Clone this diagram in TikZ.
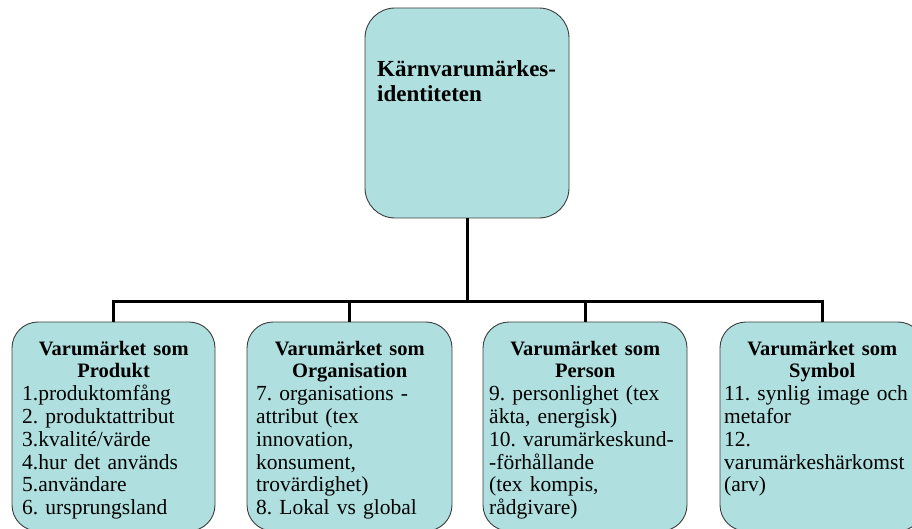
\documentclass[tikz,border=0pt]{standalone}
\usepackage{fontspec}
\setmainfont{Liberation Serif}
\frenchspacing
\definecolor{boxfill}{RGB}{175,224,223}
\definecolor{boxline}{RGB}{60,60,60}
\newcommand{\hd}[2]{\makebox[#1][c]{\fontsize{20.5}{22.8}\selectfont\bfseries #2}}
\tikzset{
  box/.style={draw=boxline, fill=boxfill, line width=0.9pt, inner sep=0pt},
  corebox/.style={box, rounded corners=30pt, minimum width=204pt, minimum height=210pt},
  subbox/.style={box, rounded corners=26pt, minimum width=204pt, minimum height=209pt},
  conn/.style={line width=3pt, black, line join=miter},
  txt/.style={anchor=base west, text width=210pt, inner sep=0pt, font=\fontsize{21.5}{22.8}\selectfont},
  coretxt/.style={anchor=base west, text width=190pt, inner sep=0pt, font=\fontsize{23}{25}\selectfont\bfseries}
}
\begin{document}
\begin{tikzpicture}[x=1pt,y=-1pt]
\fill[white] (0,0) rectangle (912,529);
\useasboundingbox (0,0) rectangle (912,529);

% boxes
\node[corebox] (core) at (467,113) {};
\node[subbox, minimum width=203pt] (b1) at (113.5,426.5) {};
\node[subbox, minimum width=205pt] (b2) at (349.5,426.5) {};
\node[subbox] (b3) at (585,426.5) {};
\node[subbox] (b4) at (822,426.5) {};

% connectors
\coordinate (bar) at (467,301);
\draw[conn] (core.south) -- (bar);
\draw[conn] (bar) -| (b1.north);
\draw[conn] (bar) -| (b2.north);
\draw[conn] (bar) -| (b3.north);
\draw[conn] (bar) -| (b4.north);

% texts
\node[coretxt] (coret) at (377,77) {\raggedright Kärnvarumärkes-\\identiteten};

\node[txt] (t1) at (22,355) {\raggedright\hd{183pt}{Varumärket som}\\\hd{183pt}{Produkt}\\
1.produktomfång\\2. produktattribut\\3.kvalité/värde\\4.hur det används\\5.användare\\6. ursprungsland};

\node[txt] (t2) at (256,355) {\raggedright\hd{187pt}{Varumärket som}\\\hd{187pt}{Organisation}\\
7. organisations -\\attribut (tex\\innovation,\\konsument,\\trovärdighet)\\8. Lokal vs global};

\node[txt] (t3) at (489,355) {\raggedright\hd{192pt}{Varumärket som}\\\hd{192pt}{Person}\\
9. personlighet (tex\\äkta, energisk)\\10. varumärkeskund-\\-förhållande\\(tex kompis,\\rådgivare)};

\node[txt] (t4) at (724,355) {\raggedright\hd{196pt}{Varumärket som}\\\hd{196pt}{Symbol}\\
\makebox[192pt][s]{11. synlig image och}\\metafor\\12.\\varumärkeshärkomst\\(arv)};
\end{tikzpicture}
\end{document}
